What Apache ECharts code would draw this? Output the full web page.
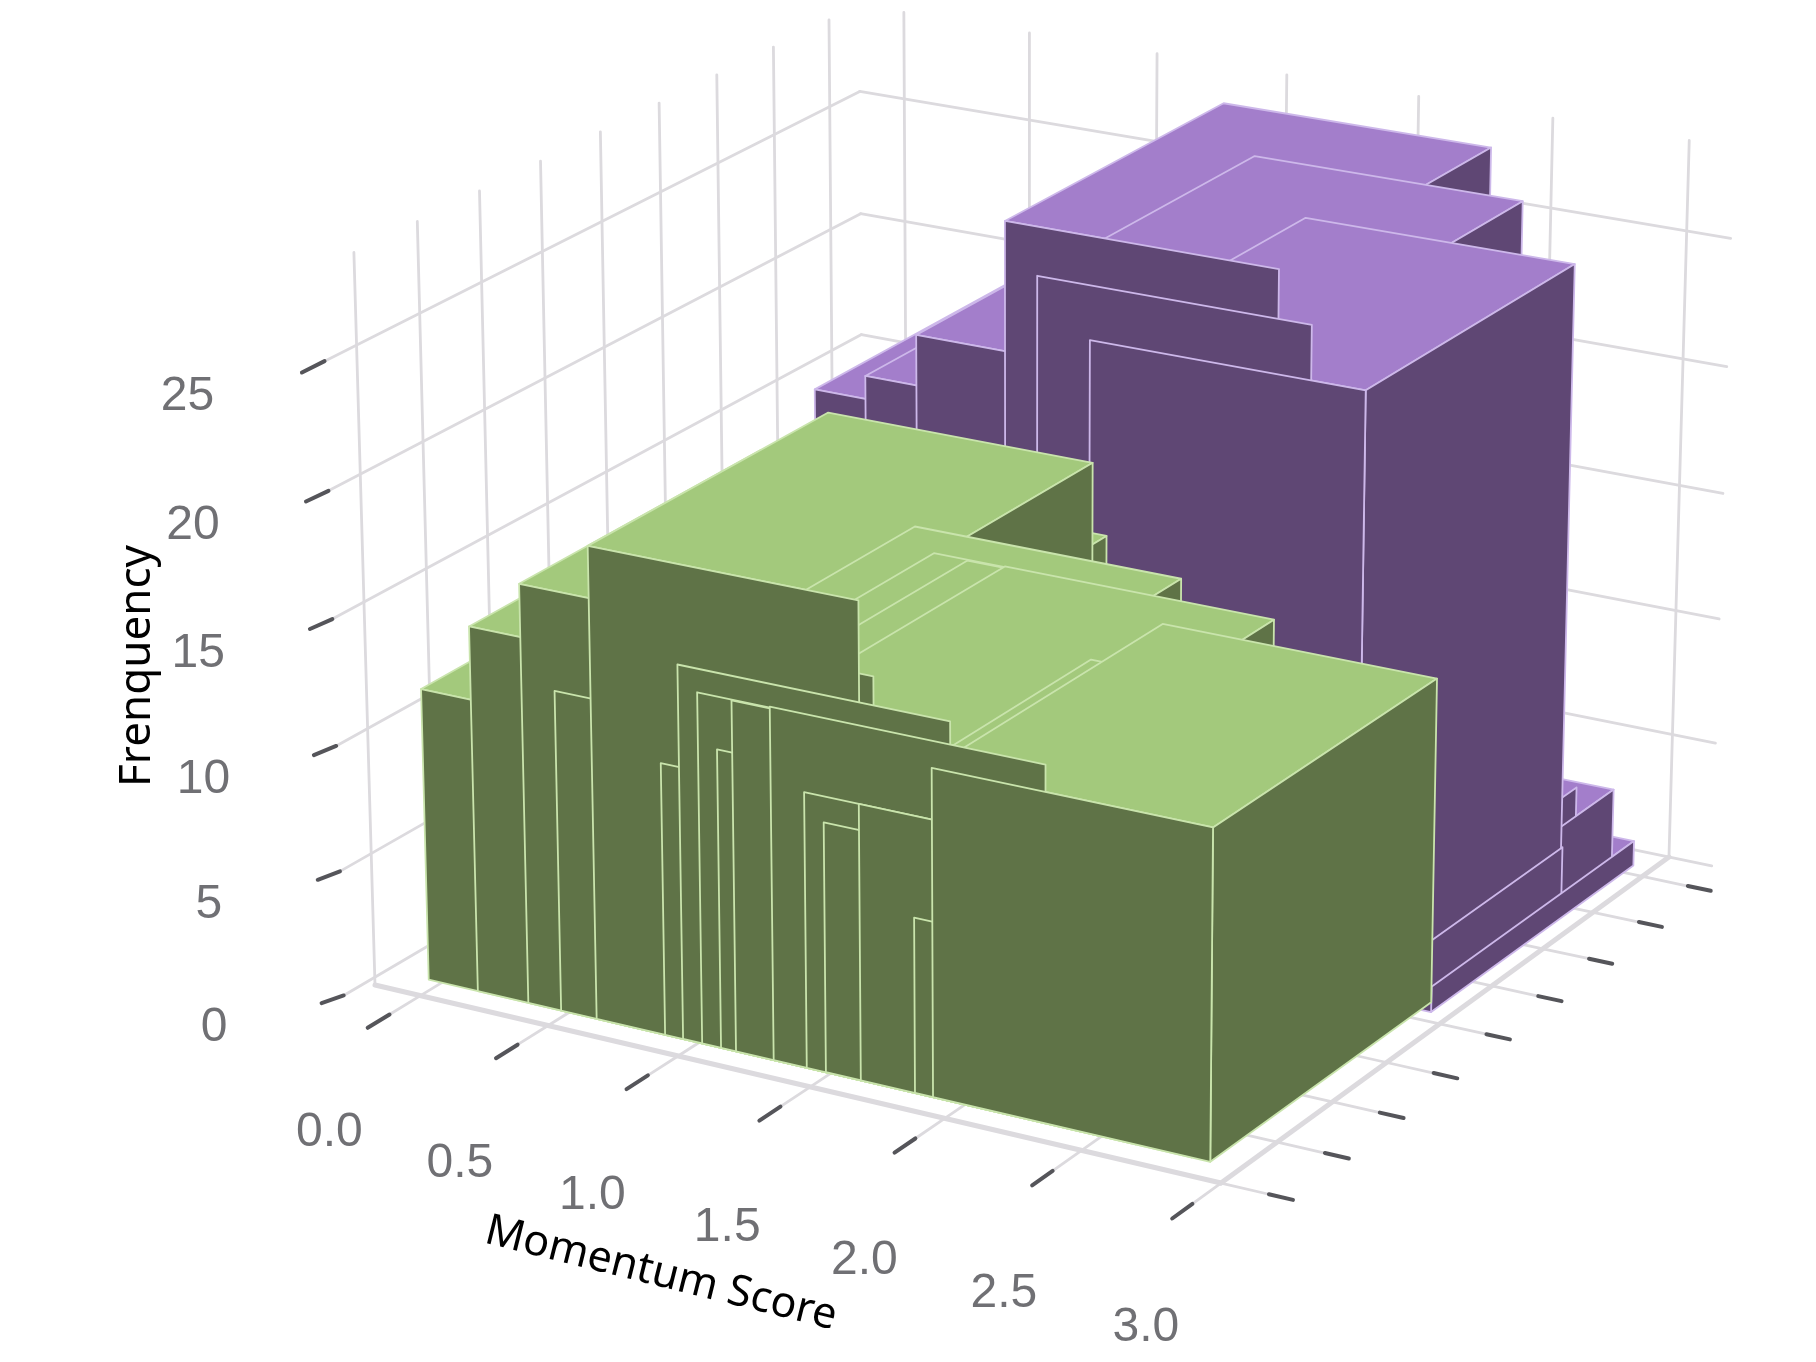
<!DOCTYPE html>
<html>
<head>
<meta charset="utf-8">
<style>html,body{margin:0;padding:0;background:#fff}#chart{width:1816px;height:1362px}</style>
<script src="https://cdn.jsdelivr.net/npm/echarts@6/dist/echarts.min.js"></script>
</head>
<body>
<div id="chart"></div>
<script>
// ---- values (listed in drawing order) ----
const xTickLabels = ['0.0', '0.5', '1.0', '1.5', '2.0', '2.5', '3.0'];
const xTickValues = [0, 0.5, 1, 1.5, 2, 2.5, 3];
const zTickValues = [0, 5, 10, 15, 20, 25];
const depthTicks = [0, 1, 2, 3, 4, 5, 6, 7, 8];
const barWidth = 1.01;

const greenScores = [-0.051, 0.143, 0.341, 0.469, 0.66, 0.607, 0.871, 0.94, 1.013, 1.085, 1.142, 1.285, 1.41, 1.482, 1.613, 1.815, 1.882];
const greenFreq = [11.54, 14.39, 16.45, 12.58, 15.7, 18.45, 10.65, 14.6, 13.69, 11.65, 13.66, 13.72, 10.72, 9.72, 10.72, 6.81, 12.69];
const greenDepthStart = 0.345;
const greenDepthEnd = 4.4;
const greenTopsFirst = [12, 13];

const purpleScores = [0.6, 0.796, 0.992, 1.7, 1.839, 1.329, 1.45, 1.647, 1.86, 1.92];
const purpleFreq = [19.6, 20.5, 22.47, 2.7, 2.92, 27.48, 25.6, 23.5, 2.25, 1.0];
const purpleDepthStart = 4.2;
const purpleDepthEnd = [8.2, 8.2, 8.2, 8.2, 8.2, 8.2, 8.2, 8.2, 7.06, 8.2];
const purpleTopsFirst = [3, 4, 8, 9];

// ---- the 3D view: a perspective map from (score, depth, frequency) to the page ----
const X_MIN = -0.18, X_MAX = 3, Z_AXIS_MAX = 25, DEPTH_MAX = 8.55, PLOT = 1000;
const VIEW = {
  a: 780.4, b: 558.8, c: 375, d: 134.5, e: -239.2, f: 985,
  g: -0.0537, h: 0.0808, az: -1.1302, bz: -25.98, cz: -0.0011016
};
function makeProject(api) {
  return function (x, y, z) {
    const p = api.coord([x, z]);            // hidden value axes do the scaling
    const u = p[0] / PLOT;
    const zz = (PLOT - p[1]) / PLOT * Z_AXIS_MAX;
    const v = y / DEPTH_MAX;
    const w = 1 + VIEW.g * u + VIEW.h * v + VIEW.cz * zz;
    return [
      (VIEW.c + VIEW.a * u + VIEW.b * v + VIEW.az * zz) / w,
      (VIEW.f + VIEW.d * u + VIEW.e * v + VIEW.bz * zz) / w
    ];
  };
}

// ---- gridlines and ticks ----
const GRID_COLOR = '#dcdade', TICK_COLOR = '#55555a';
const Z_TOP = 28.5, X_END = 3.16, TICK_X = 3.255, TICK_Y = -0.85, TICK_MID = -0.5;
const gridRows = [];
function seg(x1, y1, z1, x2, y2, z2, kind) { gridRows.push([x1, z1, y1, x2, y2, z2, kind]); }
zTickValues.forEach(function (z) {
  const lift = 0.55 * (1 - z / Z_AXIS_MAX);
  seg(X_MIN, DEPTH_MAX, z, X_MIN, TICK_MID, z + lift * 0.6, 0);
  seg(X_MIN, TICK_MID, z + lift * 0.6, X_MIN, TICK_Y, z + lift, 1);
  seg(X_MIN, DEPTH_MAX, z, X_END, DEPTH_MAX, z, 0);
});
depthTicks.forEach(function (y) {
  seg(X_MIN, y, 0, X_MIN, y, Z_TOP, 0);
  seg(X_MIN, y, 0, X_MAX, y, 0, 0);
  seg(X_MAX, y, 0, 3.17, y, 0, 0);
  seg(3.17, y, 0, TICK_X, y, 0, 1);
});
xTickValues.forEach(function (x) {
  seg(x, DEPTH_MAX, 0, x, DEPTH_MAX, Z_TOP, 0);
  seg(x, DEPTH_MAX, 0, x, 0, 0, 0);
  seg(x, 0, 0, x, TICK_MID, 0, 0);
  seg(x, TICK_MID, 0, x, TICK_Y, 0, 1);
});
seg(X_MIN, 0, 0, X_MAX, 0, 0, 2);
seg(X_MAX, 0, 0, X_MAX, DEPTH_MAX, 0, 2);

function renderGrid(params, api) {
  const project = makeProject(api);
  const k = api.value(6);
  return {
    type: 'polyline',
    shape: { points: [project(api.value(0), api.value(2), api.value(1)), project(api.value(3), api.value(4), api.value(5))] },
    style: { fill: null, stroke: k === 1 ? TICK_COLOR : GRID_COLOR, lineWidth: k === 1 ? 4 : k === 2 ? 5 : 2.8, lineCap: 'round' }
  };
}

// Each face is one row, so the stacking can follow the picture:
// tops of the listed bars, then tops and right faces in order, then all the front faces.
const PART_TOP = 0, PART_RIGHT = 1, PART_FRONT = 2;
function faceRows(scores, freq, start, end, topsFirst) {
  const out = [];
  function add(i, part) { out.push([scores[i], freq[i], start, Array.isArray(end) ? end[i] : end, part]); }
  topsFirst.forEach(function (i) { add(i, PART_TOP); });
  scores.forEach(function (s, i) { if (topsFirst.indexOf(i) < 0) add(i, PART_TOP); add(i, PART_RIGHT); });
  scores.forEach(function (s, i) { add(i, PART_FRONT); });
  return out;
}

function barRenderer(top, side, edge) {
  return function (params, api) {
    const project = makeProject(api);
    const x = api.value(0), h = api.value(1), y0 = api.value(2), y1 = api.value(3), part = api.value(4), x2 = x + barWidth;
    let pts;
    if (part === PART_TOP) pts = [[x, y0, h], [x2, y0, h], [x2, y1, h], [x, y1, h]];
    else if (part === PART_RIGHT) pts = [[x2, y0, 0], [x2, y1, 0], [x2, y1, h], [x2, y0, h]];
    else pts = [[x, y0, 0], [x2, y0, 0], [x2, y0, h], [x, y0, h]];
    return {
      type: 'polygon',
      shape: { points: pts.map(function (p) { return project(p[0], p[1], p[2]); }) },
      style: { fill: part === PART_TOP ? top : side, stroke: edge, lineWidth: 1.8, lineJoin: 'round' }
    };
  };
}

// ---- tick labels and axis titles ----
const LABEL_FONT = 'Liberation Sans, Arial, sans-serif';
const TITLE_FONT = '"Noto Sans", "Open Sans", sans-serif';
const labelRows = [];
xTickValues.forEach(function (x, i) { labelRows.push([x, 0, 'x', xTickLabels[i]]); });
zTickValues.forEach(function (z) { labelRows.push([X_MIN, z, 'z', String(z)]); });

function renderLabel(params, api) {
  const project = makeProject(api);
  const a = api.value(0), b = api.value(1), kind = api.value(2);
  let pos;
  if (kind === 'x') {
    const p = project(a, 0, 0);
    pos = [p[0] - 91 + a * 5.3, p[1] + 137 + a * 2.7];
  } else {
    const p = project(X_MIN, 0, b);
    pos = [p[0] - 161 - b * 0.32, p[1] + 43 + b * 0.36];
  }
  return {
    type: 'text',
    x: pos[0], y: pos[1],
    style: { text: String(api.value(3)), fontFamily: LABEL_FONT, fontSize: 48, fill: '#707074', align: 'center', verticalAlign: 'middle' }
  };
}

const chart = echarts.init(document.getElementById('chart'), null, { renderer: 'canvas' });
chart.setOption({
  animation: false,
  backgroundColor: '#ffffff',
  grid: { left: 0, top: 0, width: PLOT, height: PLOT },
  xAxis: { type: 'value', min: X_MIN, max: X_MAX, show: false },
  yAxis: { type: 'value', min: 0, max: Z_AXIS_MAX, show: false },
  graphic: [
    { type: 'text', x: 137, y: 666, rotation: Math.PI / 2,
      style: { text: 'Frenquency', fontFamily: TITLE_FONT, fontSize: 44, fill: '#000', align: 'center', verticalAlign: 'middle' } },
    { type: 'text', x: 661, y: 1274, rotation: -14 * Math.PI / 180,
      style: { text: 'Momentum Score', fontFamily: TITLE_FONT, fontSize: 43, fill: '#000', align: 'center', verticalAlign: 'middle' } }
  ],
  series: [
    { type: 'custom', name: 'grid', clip: false, silent: true, renderItem: renderGrid, encode: { x: 0, y: 1 }, data: gridRows },
    { type: 'custom', name: 'Purple', clip: false, silent: true, renderItem: barRenderer('#a37ecb', '#5f4774', '#cdb8ea'), encode: { x: 0, y: 1 },
      data: faceRows(purpleScores, purpleFreq, purpleDepthStart, purpleDepthEnd, purpleTopsFirst) },
    { type: 'custom', name: 'Green', clip: false, silent: true, renderItem: barRenderer('#a3c97c', '#5f7347', '#c9e4ac'), encode: { x: 0, y: 1 },
      data: faceRows(greenScores, greenFreq, greenDepthStart, greenDepthEnd, greenTopsFirst) },
    { type: 'custom', name: 'labels', clip: false, silent: true, renderItem: renderLabel,
      dimensions: ['a', 'b', { name: 'kind', type: 'ordinal' }, { name: 'text', type: 'ordinal' }], encode: { x: 0, y: 1 }, data: labelRows }
  ]
});
</script>
</body>
</html>
